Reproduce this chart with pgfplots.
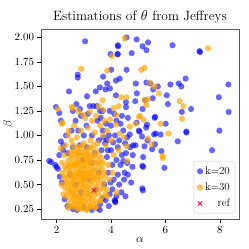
\documentclass[border=0pt]{standalone}
\usepackage{pgfplots}
\pgfplotsset{compat=1.18}
\definecolor{mblue}{RGB}{0,0,255}
\definecolor{morange}{RGB}{255,165,0}
\begin{document}
\begin{tikzpicture}
\begin{axis}[
  scale only axis, width=198bp, height=190bp,
  xmin=1.43, xmax=8.7, ymin=0.148, ymax=2.086,
  xtick={2,4,6,8}, ytick={0.25,0.5,0.75,1,1.25,1.5,1.75,2},
  yticklabel style={/pgf/number format/.cd,fixed,fixed zerofill,precision=2},
  tick align=outside, tick pos=left, major tick length=3.5bp,
  axis line style={draw=black!65, line width=0.8pt},
  tick style={black, line width=0.6pt},
  ticklabel style={font=\fontsize{11}{13}\selectfont},
  title={\fontsize{13.5}{15}\selectfont Estimations of $\theta$ from Jeffreys},
  title style={yshift=-4bp},
  xlabel={\fontsize{12}{14}\selectfont$\alpha$}, ylabel={\fontsize{12}{14}\selectfont$\beta$},
  xlabel style={yshift=3bp}, ylabel style={yshift=-6bp},
  legend style={at={(0.98,0.03)}, anchor=south east, draw=black!20, rounded corners=2pt,
    font=\fontsize{11}{13}\selectfont, row sep=3pt, inner sep=3pt},
  legend cell align=right,
]
\addplot[only marks, mark=*, mark size=3.1pt, color=mblue, fill opacity=0.6, draw opacity=0] coordinates {
(3.05,1.96)(4.57,2.00)(4.94,1.98)(5.16,1.91)(5.36,1.95)(6.26,1.92)(7.25,1.86)(7.27,1.85)
(4.25,1.92)(4.26,1.91)(4.25,1.83)(4.24,1.83)(3.98,1.83)(4.76,1.84)(5.30,1.87)
(4.57,1.67)(4.01,1.67)(2.78,1.62)(2.78,1.59)(3.71,1.60)(4.18,1.56)(4.32,1.58)(3.86,1.53)
(2.46,1.45)(3.44,1.45)(3.80,1.47)(3.96,1.48)(3.59,1.49)(4.91,1.53)(5.30,1.54)(5.44,1.53)
(5.55,1.47)(5.72,1.50)(6.18,1.52)(6.49,1.53)(6.74,1.58)(6.58,1.50)(8.31,1.52)
(6.05,1.41)(7.96,1.39)(8.32,1.24)(6.94,1.27)(6.60,1.24)(6.09,1.32)(5.53,1.38)(5.26,1.36)
(4.89,1.35)(4.55,1.34)(4.18,1.41)(3.12,1.40)(4.95,1.43)(1.98,1.29)(2.10,1.23)(2.16,1.15)
(2.73,1.32)(2.86,1.27)(3.22,1.30)(3.47,1.30)(3.69,1.25)(4.55,1.29)(5.16,1.27)(5.62,1.19)
(5.60,1.18)(6.01,1.12)(4.94,1.13)(5.29,1.08)(5.32,1.11)(5.58,1.01)(5.64,1.02)(5.82,1.01)
(5.02,1.05)(5.05,1.04)(5.14,0.99)(5.34,0.95)(5.61,0.91)(5.85,0.84)(6.45,0.94)(6.76,1.04)
(6.77,1.03)(7.98,1.05)(7.71,0.85)(5.96,0.67)(5.18,0.68)(5.15,0.69)(5.18,0.78)(4.79,0.68)
(4.74,0.52)(5.15,0.46)(5.17,0.44)(4.53,0.38)(4.14,0.34)(3.59,0.24)(2.12,0.58)(1.73,0.74)
(2.00,0.68)(2.16,0.94)(2.24,0.85)(4.81,0.90)(5.23,0.89)(4.69,1.01)(5.51,0.86)
(1.80,0.73)(1.95,0.70)(2.05,0.66)(2.20,0.52)(2.10,0.80)(2.25,0.90)(2.30,0.35)(2.40,0.28)
(2.60,0.25)(2.75,0.24)(3.00,0.27)(3.30,0.24)(3.50,0.26)(3.60,0.30)(3.70,0.36)(3.80,0.34)
(3.95,0.40)(4.15,0.33)(4.16,0.32)(4.20,0.38)(4.05,0.45)(4.10,0.55)(4.25,0.60)(4.30,0.50)
(4.35,0.70)(4.20,0.75)(4.40,0.80)(4.50,0.62)(3.90,0.62)(3.75,0.50)(3.85,0.78)(4.00,0.85)
(3.65,0.85)(3.40,0.82)(3.10,0.88)(2.85,0.90)(2.60,0.88)(2.40,0.82)(2.50,0.60)(2.70,0.50)
(2.90,0.42)(3.20,0.55)(3.45,0.45)(3.55,0.62)(3.30,0.72)(2.95,0.75)(4.45,0.74)(4.60,0.72)
(4.48,0.55)(4.62,0.60)(4.38,0.42)(3.92,0.28)(4.05,0.70)(4.25,0.88)(3.98,0.52)
(2.35,1.00)(2.55,1.05)(2.70,1.15)(2.90,1.20)(3.10,1.10)(3.30,1.00)(3.50,1.15)(3.70,1.05)
(3.85,0.95)(4.00,1.10)(4.15,1.00)(4.30,0.95)(4.45,1.05)(4.60,0.98)(4.70,0.88)(4.80,0.80)
(4.90,0.90)(4.40,1.20)(4.20,1.15)(3.95,1.25)(3.60,1.25)(3.35,1.30)(3.15,1.22)(2.80,1.05)
(2.60,1.25)(3.00,1.00)(3.78,0.92)(3.92,1.00)(4.08,0.93)(3.72,0.98)(3.55,0.95)(4.52,0.92)
(3.82,1.12)(4.12,1.22)(4.62,1.18)(3.62,1.18)(4.35,1.12)(3.88,0.85)(4.55,0.82)
};
\addlegendentry{k=20}
\addplot[only marks, mark=*, mark size=3.1pt, color=morange, fill opacity=0.68, draw opacity=0] coordinates {
(7.57,1.89)(4.50,1.99)(4.03,1.81)(2.91,1.68)(3.86,1.66)(5.11,1.67)(5.23,1.69)(5.42,1.54)
(5.60,1.50)(5.76,1.43)(4.37,1.39)(4.57,1.39)(5.23,1.36)(5.36,1.37)(5.30,1.31)(3.69,1.36)
(6.52,1.35)(6.66,1.30)(6.61,1.17)(6.11,1.02)(5.82,1.12)(5.89,0.79)(5.90,0.77)(5.48,0.91)(5.36,0.97)
(4.59,0.74)(5.06,1.20)(5.03,1.19)(5.20,1.16)(4.90,1.12)(4.20,1.21)(3.71,1.26)(2.56,1.29)
(2.05,1.27)(2.20,1.12)(2.42,1.00)(2.34,0.90)(2.98,1.21)(3.22,1.24)(3.96,1.16)(4.18,1.11)
(4.32,1.02)(4.47,0.98)(4.57,0.89)(4.28,0.85)(4.69,1.09)(2.59,1.28)(2.22,1.13)(4.10,1.28)(4.28,1.30)
(2.43,0.26)(2.81,0.25)(3.12,0.24)(3.59,0.34)(3.86,0.38)
(2.45,0.30)(2.55,0.28)(2.62,0.35)(2.70,0.26)(2.78,0.31)(2.85,0.27)(2.93,0.33)(3.02,0.29)
(3.10,0.25)(3.18,0.32)(3.25,0.28)(3.35,0.30)(3.48,0.27)(3.60,0.33)
(2.35,0.38)(2.48,0.41)(2.58,0.44)(2.66,0.39)(2.74,0.42)(2.82,0.37)(2.90,0.40)(2.98,0.43)
(3.06,0.38)(3.14,0.41)(3.22,0.37)(3.30,0.42)(3.40,0.39)(3.52,0.41)(3.66,0.37)
(2.30,0.47)(2.40,0.50)(2.50,0.46)(2.60,0.52)(2.68,0.48)(2.76,0.51)(2.84,0.46)(2.92,0.53)
(3.00,0.49)(3.08,0.52)(3.16,0.47)(3.24,0.50)(3.32,0.53)(3.44,0.48)(3.56,0.51)(3.70,0.46)
(2.33,0.56)(2.44,0.59)(2.54,0.55)(2.63,0.60)(2.71,0.57)(2.79,0.61)(2.87,0.56)(2.95,0.60)
(3.03,0.57)(3.11,0.61)(3.19,0.55)(3.27,0.59)(3.37,0.56)(3.49,0.60)(3.62,0.57)(3.78,0.58)
(2.38,0.65)(2.47,0.68)(2.57,0.64)(2.66,0.69)(2.74,0.66)(2.82,0.70)(2.90,0.65)(2.98,0.68)
(3.06,0.64)(3.14,0.69)(3.22,0.66)(3.31,0.70)(3.42,0.65)(3.55,0.68)(3.68,0.66)
(2.42,0.74)(2.52,0.77)(2.62,0.73)(2.72,0.78)(2.80,0.75)(2.88,0.79)(2.97,0.74)(3.05,0.78)
(3.13,0.73)(3.21,0.77)(3.30,0.75)(3.40,0.79)(3.52,0.74)(3.65,0.77)
(2.50,0.83)(2.64,0.85)(2.76,0.82)(2.86,0.86)(2.95,0.83)(3.08,0.85)(3.18,0.82)(3.28,0.87)(3.45,0.84)
(2.72,0.45)(2.88,0.52)(2.95,0.47)(3.05,0.55)(2.80,0.63)(2.92,0.58)(3.00,0.62)(2.68,0.55)
(3.12,0.45)(2.85,0.35)(3.20,0.62)(2.60,0.40)(3.35,0.65)(2.75,0.72)
(2.22,0.62)(2.18,0.50)(2.25,0.40)(2.16,0.87)(2.20,0.72)(3.85,0.45)(3.95,0.55)(3.90,0.70)
(4.05,0.62)(4.10,0.80)(3.80,0.90)(4.20,0.42)(2.55,0.95)(2.75,0.98)(3.00,0.92)(3.25,0.95)
(3.50,0.92)(3.70,1.00)(2.90,1.05)(3.15,1.08)(3.40,1.03)(3.60,1.10)(3.85,1.05)(4.00,0.95)
(2.65,1.10)(3.30,1.15)(2.45,1.05)(3.05,1.18)(3.45,1.20)(3.75,1.15)(2.80,1.25)(3.55,1.30)
(2.50,0.35)(2.68,0.32)(2.88,0.30)(3.06,0.33)(3.28,0.35)(3.42,0.33)(2.40,0.44)(2.55,0.50)
(2.70,0.38)(2.95,0.37)(3.18,0.40)(3.38,0.45)(3.50,0.55)(3.60,0.45)(2.36,0.52)(2.48,0.62)
(2.60,0.58)(2.75,0.60)(2.86,0.62)(3.00,0.55)(3.15,0.58)(3.28,0.62)(3.40,0.58)(3.58,0.62)
(2.42,0.70)(2.58,0.70)(2.70,0.70)(2.85,0.72)(3.00,0.70)(3.10,0.75)(3.25,0.72)(3.45,0.72)
(3.60,0.72)(2.55,0.80)(2.70,0.82)(2.83,0.82)(3.00,0.80)(3.15,0.80)(3.35,0.80)(3.55,0.80)
(2.62,0.90)(2.80,0.88)(2.95,0.90)(3.20,0.88)(3.38,0.90)(2.28,0.80)(2.30,0.68)(2.27,0.58)
(3.72,0.52)(3.75,0.62)(3.72,0.72)(3.80,0.40)(2.95,0.25)(3.20,0.27)(2.65,0.29)(3.40,0.26)
};
\addlegendentry{k=30}
\addplot[only marks, mark=x, mark size=3pt, color=magenta, line width=0.8pt] coordinates {(3.37,0.44)};
\addlegendentry{ref}
\end{axis}
\pgfresetboundingbox
\path[use as bounding box] (-41bp,-30bp) rectangle (208bp,219bp);
\end{tikzpicture}
\end{document}
